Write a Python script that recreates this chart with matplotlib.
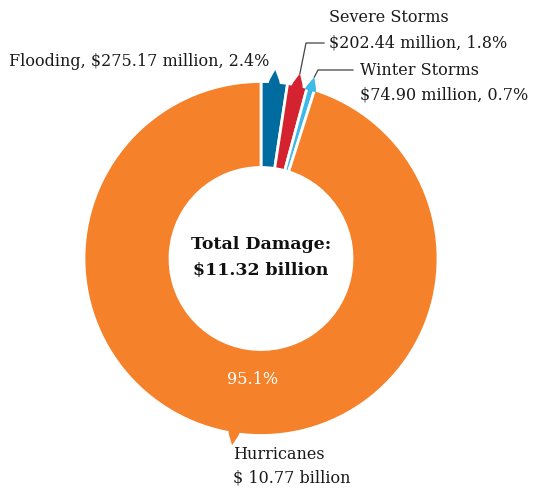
import numpy as np
import matplotlib.pyplot as plt
from matplotlib.patches import Polygon

# data
categories = ["Flooding", "Severe Storms", "Winter Storms", "Hurricanes"]
damage = [275.17, 202.44, 74.90, 10770.0]  # $ millions
shares = [2.4, 1.8, 0.7, 95.1]
colors = ["#006B9F", "#D52230", "#3DB9EA", "#F5822A"]

W, H = 551, 489
plt.rcParams["font.family"] = ["DejaVu Serif"]

fig = plt.figure(figsize=(W / 100, H / 100), dpi=100)
ax = fig.add_axes([0, 0, 1, 1])


def py(y):
    # pixel row (from top) -> data y
    return H - y


cx, cy, R, r_in = 261, py(259.5), 177, 91

wedges, _ = ax.pie(
    shares,
    colors=colors,
    startangle=90,
    counterclock=False,
    center=(cx, cy),
    radius=R,
    frame=True,
    wedgeprops=dict(width=R - r_in, edgecolor="white", linewidth=2),
)
ax.set_xlim(0, W)
ax.set_ylim(0, H)
ax.axis("off")

# little pointer shapes on outer edge of each slice
tips = {}
for w, c in zip(wedges, colors):
    mid = np.deg2rad((w.theta1 + w.theta2) / 2)
    half = np.deg2rad(1.9)
    shoulder = np.deg2rad(1.5)
    pts = [
        (cx + (R - 2) * np.cos(mid - half), cy + (R - 2) * np.sin(mid - half)),
        (cx + (R + 2) * np.cos(mid - shoulder), cy + (R + 2) * np.sin(mid - shoulder)),
        (cx + (R + 12) * np.cos(mid), cy + (R + 12) * np.sin(mid)),
        (cx + (R + 2) * np.cos(mid + shoulder), cy + (R + 2) * np.sin(mid + shoulder)),
        (cx + (R - 2) * np.cos(mid + half), cy + (R - 2) * np.sin(mid + half)),
    ]
    ax.add_patch(Polygon(pts, closed=True, facecolor=c,
                         edgecolor="none", zorder=3))
    tips[w] = pts[2]

fs = 11.5
txt = "#1a1a1a"

# Flooding
ax.text(269, py(62), "Flooding, $275.17 million, 2.4%", ha="right",
        va="center", fontsize=fs, color=txt)

# Severe Storms
tx, ty = tips[wedges[1]]
ax.plot([tx, 306, 324], [ty, py(44), py(44)], color="#444444", lw=0.9)
ax.text(329, py(18), "Severe Storms", ha="left", va="center", fontsize=fs, color=txt)
ax.text(329, py(43), "$202.44 million, 1.8%", ha="left", va="center",
        fontsize=fs, color=txt)

# Winter Storms
tx, ty = tips[wedges[2]]
ax.plot([tx, 318, 353], [ty, py(71), py(71)], color="#444444", lw=0.9)
ax.text(360, py(71), "Winter Storms", ha="left", va="center", fontsize=fs, color=txt)
ax.text(360, py(95), "$74.90 million, 0.7%", ha="left", va="center",
        fontsize=fs, color=txt)

# Hurricanes
ax.text(233, py(455), "Hurricanes", ha="left", va="center", fontsize=fs, color=txt)
ax.text(233, py(478), "$ 10.77 billion", ha="left", va="center", fontsize=fs, color=txt)
ax.text(253, py(380), "95.1%", ha="center", va="center", fontsize=fs,
        color="white")

# center
ax.text(cx, py(245), "Total Damage:", ha="center", va="center",
        fontsize=12.5, fontweight="bold", color="#111111")
ax.text(cx, py(271), "$11.32 billion", ha="center", va="center",
        fontsize=12.5, fontweight="bold", color="#111111")

fig.savefig("out.png", dpi=100)
